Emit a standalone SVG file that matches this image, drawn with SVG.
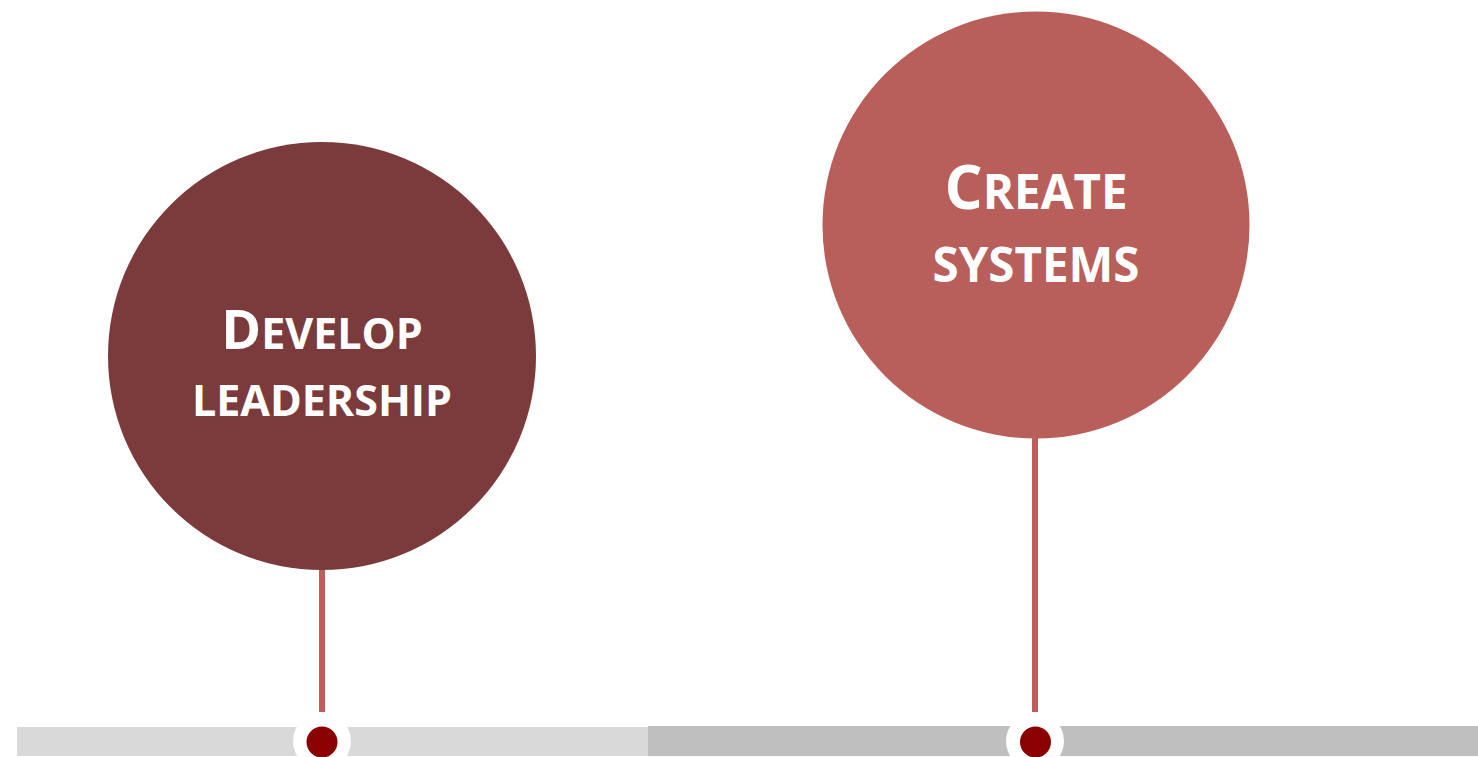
<svg xmlns="http://www.w3.org/2000/svg" width="1478" height="757" viewBox="0 0 1478 757">
<style>
.lbl{font-family:"Open Sans","Liberation Sans",sans-serif;font-weight:bold;fill:#fff;text-anchor:middle;font-size:43px}
.big{font-size:54px}
.lbl2{font-size:47.5px}
.big2{font-size:60px}
.stem{stroke:#BC5F5A;stroke-width:6}
.halo{fill:#fff}
.dot{fill:#8B0000}
</style>
<rect width="1478" height="757" fill="#fff"/>
<g id="bar">
<rect x="17" y="727" width="631" height="29" fill="#D9D9D9"/>
<rect x="648" y="726" width="830" height="30" fill="#BFBFBF"/>
</g>
<g id="connectors">
<line class="stem" x1="322" y1="566" x2="322" y2="712"/>
<line class="stem" x1="1035" y1="435" x2="1035" y2="712"/>
</g>
<g id="node-develop">
<circle cx="322" cy="356" r="214" fill="#7B3B3C"/>
<text class="lbl" x="322" y="349"><tspan class="big">D</tspan>EVELOP</text>
<text class="lbl" x="322" y="416">LEADERSHIP</text>
</g>
<g id="node-create">
<circle cx="1036" cy="225" r="213.5" fill="#B95F5B"/>
<text class="lbl lbl2" x="1036" y="209"><tspan class="big2">C</tspan>REATE</text>
<text class="lbl lbl2" x="1036" y="282">SYSTEMS</text>
</g>
<g id="marker-1">
<circle class="halo" cx="322" cy="741" r="29"/>
<circle class="dot" cx="322" cy="742" r="15.5"/>
</g>
<g id="marker-2">
<circle class="halo" cx="1035" cy="741" r="29"/>
<circle class="dot" cx="1035.5" cy="742" r="15.5"/>
</g>
</svg>
